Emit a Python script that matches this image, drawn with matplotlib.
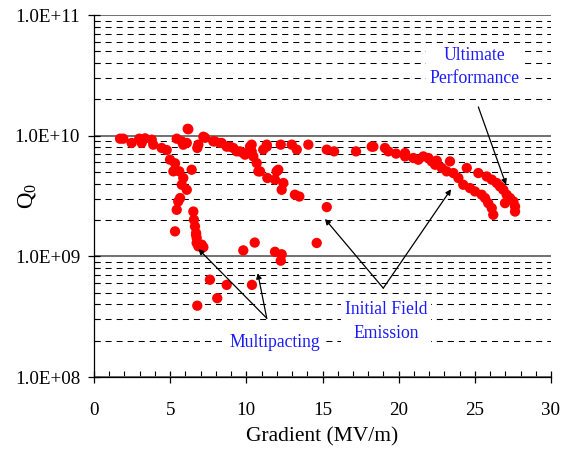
import matplotlib
matplotlib.use("Agg")
import matplotlib.pyplot as plt
from matplotlib.ticker import FixedLocator, FuncFormatter, MultipleLocator

plt.rcParams['font.family'] = ['Liberation Serif', 'DejaVu Serif']
plt.rcParams['mathtext.fontset'] = 'custom'
plt.rcParams['mathtext.rm'] = 'Liberation Serif'
plt.rcParams['mathtext.it'] = 'Liberation Serif:italic'

# ---- data (Gradient MV/m, Q0) ----
grad_plateau = [1.71, 1.92, 2.47, 2.97, 3.13, 3.35, 3.79, 3.89, 4.44, 4.77, 4.99, 5.32, 5.21, 5.60,
                5.86, 5.76, 6.09, 5.65, 5.53, 5.43, 5.32, 6.15, 6.19, 5.43, 5.76, 5.86, 6.09, 6.41,
                6.52, 6.56, 6.63, 6.70, 6.74, 6.85, 6.78, 7.18, 7.29, 7.83, 7.94, 8.27, 8.38, 8.71,
                8.93, 9.37, 9.80]
q0_plateau = [9.44e9, 9.44e9, 8.7e9, 9.44e9, 8.7e9, 9.5e9, 9.26e9, 8.42e9, 7.91e9, 7.6e9, 6.32e9, 5.9e9, 5.06e9, 5.06e9,
              4.46e9, 3.92e9, 3.56e9, 3.04e9, 2.85e9, 2.43e9, 1.61e9, 1.14e10, 1.13e10, 9.44e9, 8.97e9, 8.42e9, 8.7e9, 5.22e9,
              2.35e9, 2.01e9, 1.77e9, 1.56e9, 1.42e9, 8.42e9, 7.91e9, 9.8e9, 9.6e9, 8.97e9, 8.97e9, 8.7e9, 8.7e9, 8.11e9,
              8.11e9, 7.41e9, 7.18e9]

grad_multipact = [6.70, 6.74, 7.07, 7.18, 6.85, 9.80, 10.55, 11.88, 12.32, 12.26, 14.62,
                  7.61, 8.71, 10.37, 8.09, 6.78]
q0_multipact = [1.51e9, 1.29e9, 1.25e9, 1.19e9, 1.21e9, 1.12e9, 1.30e9, 1.09e9, 1.04e9, 9.2e8, 1.29e9,
                6.4e8, 5.8e8, 5.8e8, 4.5e8, 3.9e8]

grad_mid = [9.14, 9.58, 9.91, 10.24, 10.35, 10.35, 10.46, 10.68, 10.79, 10.90, 11.11, 11.34, 11.34,
            12.10, 11.38, 11.88, 11.99, 12.43, 12.32, 13.19, 13.48, 15.28, 12.26, 12.98, 13.31,
            14.07, 15.28, 15.76, 17.20, 18.23]
q0_mid = [7.91e9, 7.41e9, 6.96e9, 8.11e9, 8.42e9, 7.41e9, 6.73e9, 5.93e9, 5.06e9, 5.06e9, 7.66e9, 8.42e9, 8.11e9,
          5.22e9, 4.46e9, 4.32e9, 5.06e9, 4.05e9, 3.56e9, 3.24e9, 3.13e9, 2.56e9, 8.42e9, 8.42e9, 7.66e9,
          8.42e9, 7.66e9, 7.41e9, 7.41e9, 8.11e9]

grad_high = [18.34, 19.10, 19.32, 19.83, 20.42, 20.42, 20.96, 21.29, 21.62, 21.95, 22.17, 22.50, 22.39,
             22.83, 23.37, 23.15, 23.59, 23.92, 24.24, 24.47, 24.68, 25.01, 25.23, 25.45, 25.67, 25.78,
             25.88, 26.11, 26.11, 26.21, 26.44, 26.65, 26.87, 27.09, 26.98, 27.31, 27.53, 27.64, 27.64]
q0_high = [8.11e9, 7.91e9, 7.41e9, 7.1e9, 7.18e9, 6.73e9, 6.53e9, 6.32e9, 6.73e9, 6.53e9, 6.12e9, 6.2e9, 5.74e9,
           5.40e9, 6.12e9, 5.06e9, 4.90e9, 4.46e9, 3.92e9, 5.40e9, 3.68e9, 3.45e9, 4.90e9, 3.24e9, 3.04e9, 4.59e9,
           2.76e9, 4.32e9, 2.51e9, 2.21e9, 4.05e9, 3.79e9, 3.56e9, 3.24e9, 2.76e9, 3.04e9, 2.85e9, 2.59e9, 2.35e9]

x_ticks = [0, 5, 10, 15, 20, 25, 30]
y_ticks = [1e8, 1e9, 1e10, 1e11]

fig = plt.figure(figsize=(5.72, 4.49), dpi=100)
ax = fig.add_axes([94/572, 1-377/449, (551-94)/572, (377-15)/449])
ax.set_yscale('log')
ax.set_xlim(0, 30)
ax.set_ylim(1e8, 1e11)

# grid
ax.yaxis.grid(True, which='major', color='#666666', lw=1.3, ls='-', zorder=1)
ax.yaxis.grid(True, which='minor', color='black', lw=0.75, ls=(0, (5.8, 4.8)), zorder=1)
ax.set_axisbelow(True)

for gx, gq in [(grad_plateau, q0_plateau), (grad_multipact, q0_multipact),
               (grad_mid, q0_mid), (grad_high, q0_high)]:
    ax.scatter(gx, gq, s=55, color='#ff0000', edgecolors='none', zorder=3)

for s in ['top', 'right']:
    ax.spines[s].set_visible(False)
for s in ['left', 'bottom']:
    ax.spines[s].set_linewidth(0.9)

ax.xaxis.set_major_locator(FixedLocator(x_ticks))
ax.xaxis.set_minor_locator(MultipleLocator(1))
ax.yaxis.set_major_locator(FixedLocator(y_ticks))
ax.yaxis.set_major_formatter(FuncFormatter(lambda v, p: f"{v:.1E}"))
ax.tick_params(which='major', direction='inout', length=8, width=0.9, labelsize=13.7, pad=6)
ax.tick_params(which='minor', direction='in', length=4, width=0.8)
ax.tick_params(axis='x', which='major', pad=14)

ax.set_xlabel('Gradient (MV/m)', fontsize=15.5, labelpad=6)
ax.set_ylabel(r'Q$_\mathrm{0}$', fontsize=16.5, va='center', ha='center')
ax.yaxis.set_label_coords((27 - 94) / 457, 0.5)

# annotations
tc = '#1a1aff'
box = dict(facecolor='white', edgecolor='none', pad=2.5)
ax.text(24.95, 3.72e10, 'Ultimate\nPerformance', color=tc, fontsize=12.7, ha='center', va='center',
        multialignment='center', linespacing=1.5, bbox=box, zorder=2)
ax.text(19.17, 2.88e8, 'Initial Field\nEmission', color=tc, fontsize=12.7, ha='center', va='center',
        multialignment='center', linespacing=1.5, bbox=box, zorder=2)
ax.text(11.88, 1.93e8, 'Multipacting', color=tc, fontsize=12.7, ha='center', va='center',
        bbox=box, zorder=2)

ap = dict(arrowstyle='-|>', color='black', lw=0.9, mutation_scale=8, shrinkA=0, shrinkB=0)
ax.annotate('', xy=(27.05, 3.92e9), xytext=(25.23, 1.73e10), arrowprops=ap)
ax.annotate('', xy=(15.16, 2.04e9), xytext=(18.99, 5.45e8), arrowprops=ap)
ax.annotate('', xy=(23.44, 3.6e9), xytext=(18.99, 5.45e8), arrowprops=ap)
ax.annotate('', xy=(6.85, 1.15e9), xytext=(11.34, 3.07e8), arrowprops=ap)
ax.annotate('', xy=(10.75, 7.26e8), xytext=(11.34, 3.07e8), arrowprops=ap)

fig.savefig('out.png', dpi=100)
